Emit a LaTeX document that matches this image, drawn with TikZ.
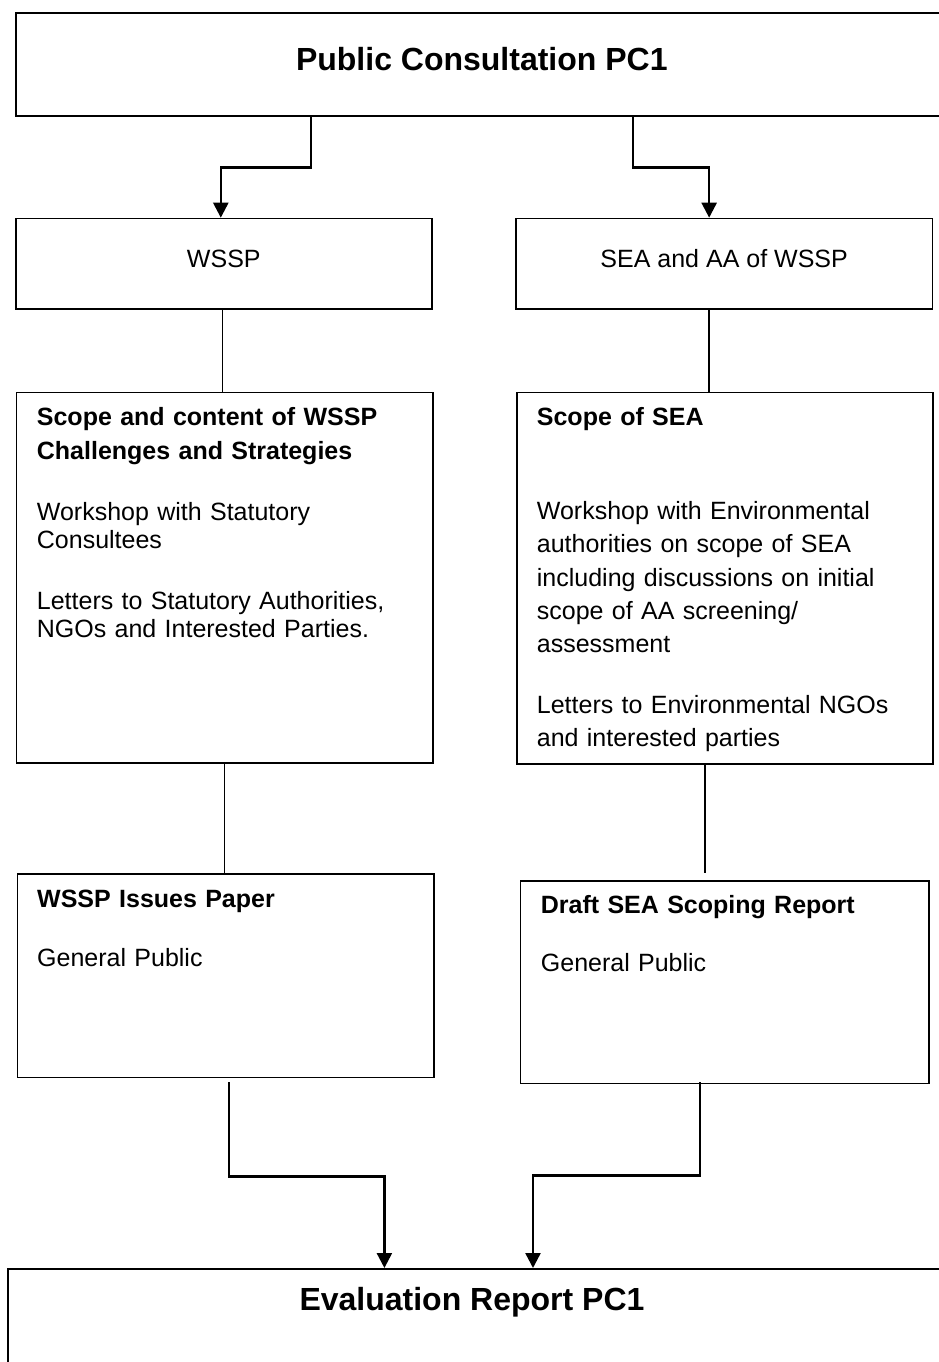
\documentclass[tikz,border=0pt]{standalone}
\usepackage{fontspec}
\setmainfont{Liberation Sans}
\usepackage{tikz}
\usetikzlibrary{positioning, arrows.meta}

\begin{document}
\begin{tikzpicture}[x=1pt, y=-1pt,
    box/.style={draw, line width=1.6pt, inner sep=0pt, anchor=north west},
    arr/.style={line width=2.4pt, -{Triangle[length=15pt, width=15pt]}},
    link/.style={line width=1.4pt},
    para/.style={anchor=base west, inner sep=0pt, text width=390pt, align=left},
    body/.style={para, font={\fontsize{25}{28.4}\selectfont}},
    wide/.style={para, font={\fontsize{25}{33.4}\selectfont}},
    head/.style={para, font={\fontsize{25}{33.3}\selectfont\bfseries}}]
        % Page frame
        \useasboundingbox (0,0) rectangle (939,1362);
        \clip (0,0) rectangle (939,1362);
        
        % Top and bottom boxes (run off the page)
        \node[box, minimum width=932pt, minimum height=103pt, text height=24pt, text depth=11pt,
              font={\fontsize{32}{38}\selectfont\bfseries}] (pc) at (15,12) {Public Consultation PC1};
        \node[box, minimum width=960pt, minimum height=200pt] (eval) at (7,1268) {};
        \node[anchor=base, inner sep=0pt, font={\fontsize{32}{38}\selectfont\bfseries}] (evalTxt) at (472,1310) {Evaluation Report PC1};
        
        % Plan and assessment boxes
        \node[box, minimum width=416pt, minimum height=90.3pt, text height=18pt, text depth=10pt,
              font={\fontsize{25}{30}\selectfont}] (wssp) at (15,217.7) {WSSP};
        \node[box, minimum width=416.7pt, minimum height=90.3pt, text height=18pt, text depth=10pt,
              font={\fontsize{25}{30}\selectfont}] (sea) at (515,217.7) {SEA and AA of WSSP};
        
        % Scoping boxes
        \node[box, minimum width=416.3pt, minimum height=370.3pt] (wsspScope) at (15.7,391.7) {};
        \node[box, minimum width=416.3pt, minimum height=371.6pt] (seaScope) at (516,391.7) {};
        \node[head] (wsspScopeHead) at (36.7,425.7) {Scope and content of WSSP\\Challenges and Strategies};
        \node[body] (wsspScopeWork) at (36.7,520) {Workshop with Statutory\\Consultees};
        \node[body] (wsspScopeLett) at (36.7,609) {Letters to Statutory Authorities,\\NGOs and Interested Parties.};
        \node[head] (seaScopeHead) at (536.7,425) {Scope of SEA};
        \node[wide] (seaScopeWork) at (536.7,519.3) {Workshop with Environmental\\authorities on scope of SEA\\including discussions on initial\\scope of AA screening/\\assessment};
        \node[wide] (seaScopeLett) at (536.7,713.3) {Letters to Environmental NGOs\\and interested parties};
        
        % Paper and report boxes
        \node[box, minimum width=416.2pt, minimum height=203.4pt] (wsspPaper) at (16.8,873.3) {};
        \node[box, minimum width=408.2pt, minimum height=202.7pt] (seaReport) at (519.8,880) {};
        \node[head] (wsspPaperHead) at (37,907) {WSSP Issues Paper};
        \node[body] (wsspPaperPub) at (37,966.7) {General Public};
        \node[head] (seaReportHead) at (540.7,913.3) {Draft SEA Scoping Report};
        \node[body] (seaReportPub) at (540.7,971.7) {General Public};
        
        % Arrows from the consultation
        \draw[arr] ([xshift=-171pt]pc.south) -- ++(0,51) -| ([xshift=-3pt]wssp.north);
        \draw[arr] ([xshift=151pt]pc.south) -- ++(0,51) -| ([xshift=-15pt]sea.north);
        
        % Links down each column
        \draw[link] ([xshift=-1.5pt]wssp.south) -- ([xshift=-1.5pt]wssp.south |- wsspScope.north);
        \draw[link] ([xshift=-15pt]sea.south) -- ([xshift=-15pt]sea.south |- seaScope.north);
        \draw[link] (wsspScope.south) -- (wsspScope.south |- wsspPaper.north);
        \draw[link] ([xshift=-20pt]seaScope.south) -- ([xshift=-20pt, yshift=7pt]seaScope.south |- seaReport.north);
        
        % Arrows into the evaluation
        \draw[arr] ([xshift=3pt, yshift=-4pt]wsspPaper.south) -- ++(0,94) -| ([xshift=-87.6pt]evalTxt.base |- eval.north);
        \draw[arr] ([xshift=-24.6pt, yshift=2pt]seaReport.south) -- ++(0,93) -| ([xshift=61pt]evalTxt.base |- eval.north);
    \end{tikzpicture}
\end{document}
